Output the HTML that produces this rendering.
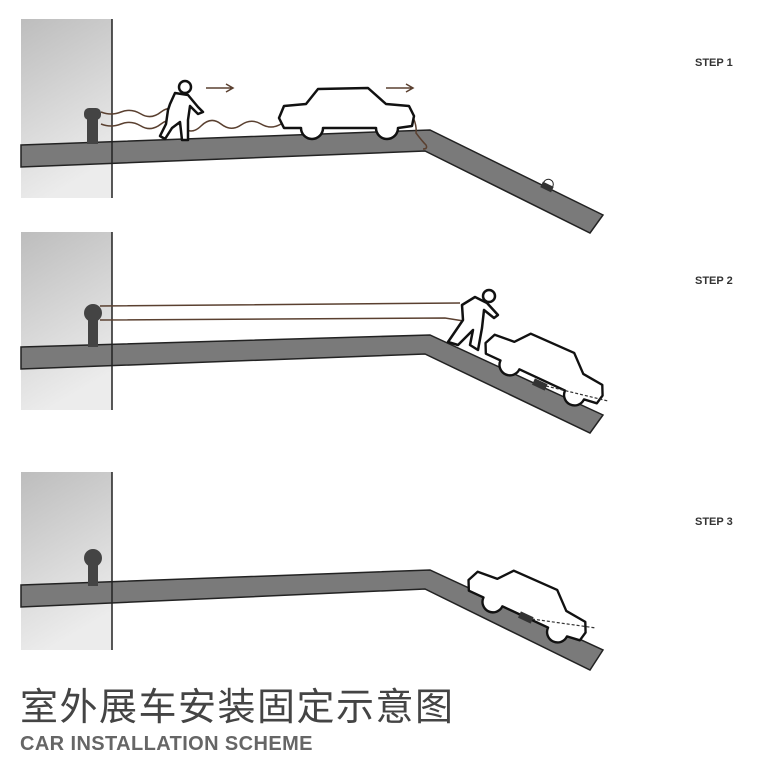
<!DOCTYPE html>
<html><head><meta charset="utf-8"><style>
html,body{margin:0;padding:0;background:#fff;width:759px;height:768px;overflow:hidden}
svg{display:block}
</style></head><body>
<svg width="759" height="768" viewBox="0 0 759 768" xmlns="http://www.w3.org/2000/svg">
<defs>
<linearGradient id="g" x1="0" y1="0" x2="0.3" y2="1">
<stop offset="0" stop-color="#bdbdbd"/><stop offset="1" stop-color="#ececec"/>
</linearGradient>
<path id="car" d="M8,18 L30,16 L42,1 L92,0 L110,16 L133,18 L138,28 L136,38 L122,40 A10,10 0 0 1 100,40 L47,40 A10,10 0 0 1 25,40 L8,40 L3,30 Z" fill="#fff" stroke="#111" stroke-width="2.5" stroke-linejoin="round"/>
</defs>
<!-- Panel 1 -->
<rect x="21" y="19" width="91" height="179" fill="url(#g)"/>
<polygon points="21,145 430,130 603,215 590,233 425,151 21,167" fill="#7a7a7a" stroke="#222" stroke-width="1.5"/>
<line x1="112" y1="19" x2="112" y2="198" stroke="#222" stroke-width="1.5"/>
<rect x="84" y="108" width="17" height="12" rx="5" fill="#444"/>
<rect x="87" y="115" width="11" height="29" fill="#444"/>
<path d="M101,112 q10,4 20,0 t20,2 t20,-2 t20,2" fill="none" stroke="#5a4030" stroke-width="1.5"/>
<path d="M101,124 q10,4 20,0 t20,2 t20,-2 t20,2 t20,0 t20,-2 t20,1 t20,-1 t20,0 t20,-2 t10,0" fill="none" stroke="#5a4030" stroke-width="1.5"/>
<path d="M412,115 q5,10 4,18 q6,8 10,12 q2,4 -3,4" fill="none" stroke="#5a4030" stroke-width="1.5"/>
<use href="#car" transform="translate(276,88)"/>
<g fill="#fff" stroke="#111" stroke-width="2.5" stroke-linejoin="round">
<circle cx="185" cy="87" r="6"/>
<path d="M170,104 L175,93 L188,95 L198,107 L203,112 L198,114 L190,106 L188,120 L188,140 L182,140 L180,122 L172,128 L165,139 L160,136 L166,124 L168,110 Z"/>
</g>
<path d="M206,88 H232 M226,84 L233,88 L226,92" fill="none" stroke="#5a4030" stroke-width="1.5"/>
<path d="M386,88 H412 M406,84 L413,88 L406,92" fill="none" stroke="#5a4030" stroke-width="1.5"/>
<g transform="translate(547,187) rotate(26)"><rect x="-6" y="-3" width="12" height="6" fill="#333"/><path d="M-5,-3 A5,5 0 0 1 5,-3" fill="none" stroke="#222"/></g>
<text x="695" y="66" font-family="Liberation Sans, sans-serif" font-weight="bold" font-size="11" fill="#333">STEP 1</text>

<!-- Panel 2 -->
<rect x="21" y="232" width="91" height="178" fill="url(#g)"/>
<polygon points="21,347 430,335 603,415 590,433 425,354 21,369" fill="#7a7a7a" stroke="#222" stroke-width="1.5"/>
<line x1="112" y1="232" x2="112" y2="410" stroke="#222" stroke-width="1.5"/>
<circle cx="93" cy="313" r="9" fill="#444"/>
<rect x="88" y="313" width="10" height="34" fill="#444"/>
<path d="M100,306 L460,303 M100,320 L445,318 L470,322" fill="none" stroke="#5a4030" stroke-width="1.5"/>
<use href="#car" transform="translate(495,316) rotate(25) scale(0.95)"/>
<g fill="#fff" stroke="#111" stroke-width="2.5" stroke-linejoin="round">
<circle cx="489" cy="296" r="6"/>
<path d="M462,305 L475,297 L487,303 L498,315 L494,318 L484,310 L482,328 L478,350 L470,345 L473,330 L458,345 L448,342 L463,320 Z"/>
</g>
<g transform="translate(540,384) rotate(25)"><rect x="-7" y="-3" width="14" height="7" fill="#333"/></g>
<path d="M546,386 L608,401" fill="none" stroke="#333" stroke-width="1.2" stroke-dasharray="3,2"/>
<text x="695" y="284" font-family="Liberation Sans, sans-serif" font-weight="bold" font-size="11" fill="#333">STEP 2</text>

<!-- Panel 3 -->
<rect x="21" y="472" width="91" height="178" fill="url(#g)"/>
<polygon points="21,585 430,570 603,650 590,670 425,589 21,607" fill="#7a7a7a" stroke="#222" stroke-width="1.5"/>
<line x1="112" y1="472" x2="112" y2="650" stroke="#222" stroke-width="1.5"/>
<circle cx="93" cy="558" r="9" fill="#444"/>
<rect x="88" y="558" width="10" height="28" fill="#444"/>
<use href="#car" transform="translate(478,553) rotate(25) scale(0.95)"/>
<g transform="translate(526,617) rotate(25)"><rect x="-7" y="-3" width="14" height="7" fill="#333"/></g>
<path d="M532,619 L596,628" fill="none" stroke="#333" stroke-width="1.2" stroke-dasharray="3,2"/>
<text x="695" y="525" font-family="Liberation Sans, sans-serif" font-weight="bold" font-size="11" fill="#333">STEP 3</text>

<text x="20" y="720" font-family="Liberation Sans, Noto Sans CJK SC, sans-serif" font-size="38" fill="#444" letter-spacing="1.5">室外展车安装固定示意图</text>
<text x="20" y="750" font-family="Liberation Sans, sans-serif" font-weight="bold" font-size="20" fill="#666" letter-spacing="0.4">CAR INSTALLATION SCHEME</text>
</svg>
</body></html>
